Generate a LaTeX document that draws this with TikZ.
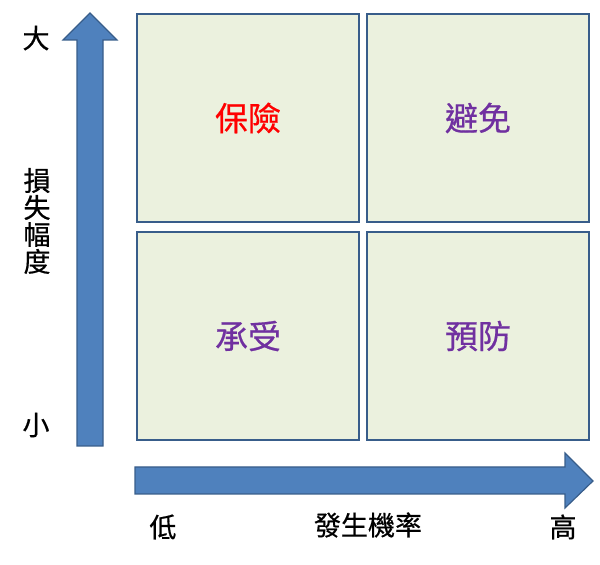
\documentclass[tikz,border=0pt]{standalone}
\usepackage{fontspec}
\usepackage{tikz}
\usetikzlibrary{positioning,calc}
\newfontfamily\cjk[FakeBold=0.6]{Noto Sans CJK TC}
\definecolor{ArrBlue}{RGB}{79,129,189}
\definecolor{ArrLine}{RGB}{56,93,138}
\definecolor{BoxFill}{RGB}{235,241,222}
\definecolor{RiskRed}{RGB}{255,0,0}
\definecolor{RiskPurple}{RGB}{112,48,160}
\tikzset{
  cell/.style={draw=ArrLine,fill=BoxFill,line width=2.4pt,minimum width=222pt,minimum height=208pt,inner sep=0pt},
  bigarrow/.style={draw=ArrLine,fill=ArrBlue,line width=1.2pt,line join=miter},
  axis/.style={font=\cjk\fontsize{27}{27}\selectfont,inner sep=0pt},
}
\tikzset{tag/.style={font=\cjk\fontsize{33}{36}\selectfont,inner sep=0pt}}

\begin{document}
\begin{tikzpicture}[x=1pt,y=1pt]
\useasboundingbox (0,0) rectangle (600,565);
% arrows
\coordinate (ua) at (77,119);
\coordinate (ub) at (103,119);
\coordinate (uc) at (103,525);
\coordinate (ud) at (117,525);
\coordinate (ue) at (90,552);
\coordinate (uf) at (63,525);
\coordinate (ug) at (77,525);
\draw[bigarrow] (ua)--(ub)--(uc)--(ud)--(ue)--(uf)--(ug)--cycle;
\coordinate (ra) at (135,98);
\coordinate (rb) at (565,98);
\coordinate (rc) at (565,112);
\coordinate (rd) at (593,84);
\coordinate (re) at (565,57);
\coordinate (rf) at (565,71);
\coordinate (rg) at (135,71);
\draw[bigarrow] (ra)--(rb)--(rc)--(rd)--(re)--(rf)--(rg)--cycle;
% quadrants
\node[cell] (tl) at (248,447) {};
\node[cell] (tr) at (478,447) {};
\node[cell] (bl) at (248,229) {};
\node[cell] (br) at (478,229) {};
\node[tag,text=RiskRed] (insure) at (tl) {保險};
\node[tag,text=RiskPurple] (avoid) at (tr) {避免};
\node[tag,text=RiskPurple] (accept) at (bl) {承受};
\node[tag,text=RiskPurple] (prevent) at (br) {預防};
% axis labels
\node[axis] (big) at (36,527) {大};
\node[axis] (small) at (36,140) {小};
\node[axis,align=center] (loss) at (37,344) {損\\失\\幅\\度};
\node[axis] (low) at (163,38) {低};
\node[axis] (prob) at (368,40) {發生機率};
\node[axis] (high) at (563,38) {高};
\end{tikzpicture}
\end{document}
